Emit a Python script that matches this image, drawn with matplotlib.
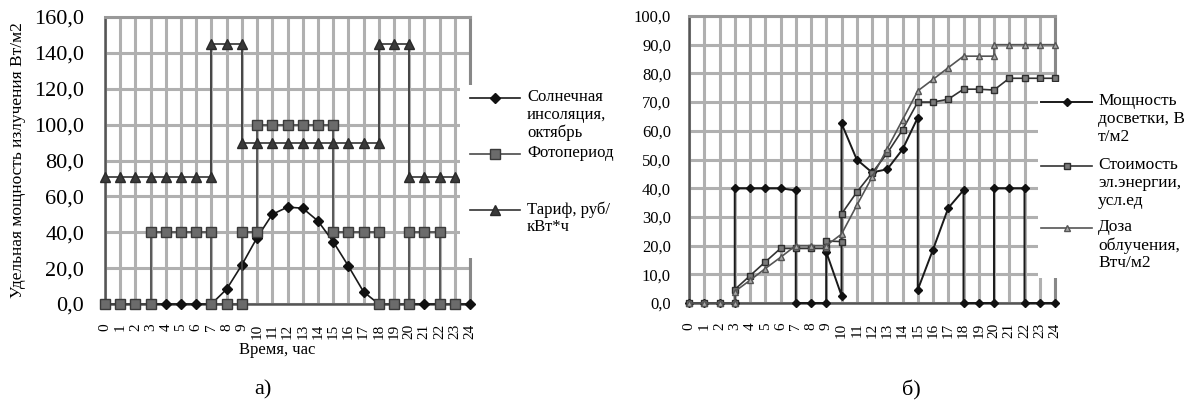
import matplotlib
matplotlib.use("Agg")
import matplotlib.pyplot as plt
from matplotlib.lines import Line2D
from matplotlib.patches import Rectangle
from matplotlib.ticker import FuncFormatter

plt.rcParams['font.family'] = ['Liberation Serif', 'DejaVu Serif']

W, H = 1184, 403

hours = list(range(25))

# --- a) solar insolation, photoperiod, tariff ---
solar_x = hours
solar_y = [0, 0, 0, 0, 0, 0, 0, 0, 8.3, 21.8, 37.0, 50.0, 54.0, 53.4, 46.3,
           34.8, 21.2, 6.8, 0, 0, 0, 0, 0, 0, 0]

photo_x = [0, 1, 2, 3, 3, 4, 5, 6, 7, 7, 8, 9, 9, 10, 10, 11, 12, 13, 14, 15,
           15, 16, 17, 18, 18, 19, 20, 20, 21, 22, 22, 23]
photo_y = [0, 0, 0, 0, 40, 40, 40, 40, 40, 0, 0, 0, 40, 40, 100, 100, 100, 100,
           100, 100, 40, 40, 40, 40, 0, 0, 0, 40, 40, 40, 0, 0]

tariff_x = [0, 1, 2, 3, 4, 5, 6, 7, 7, 8, 9, 9, 10, 11, 12, 13, 14, 15, 16, 17,
            18, 18, 19, 20, 20, 21, 22, 23]
tariff_y = [71, 71, 71, 71, 71, 71, 71, 71, 145, 145, 145, 90, 90, 90, 90, 90,
            90, 90, 90, 90, 90, 145, 145, 145, 71, 71, 71, 71]

# --- б) supplementary lighting, energy cost, dose ---
light_x = [0, 1, 2, 3, 3, 4, 5, 6, 7, 7, 8, 9, 9, 10, 10, 11, 12, 13, 14, 15,
           15, 16, 17, 18, 18, 19, 20, 20, 21, 22, 22, 23, 24]
light_y = [0, 0, 0, 0, 40, 40, 40, 40, 39.2, 0, 0, 0, 17.8, 2.6, 62.6, 50.0,
           45.5, 46.6, 53.5, 64.6, 4.6, 18.6, 33.1, 39.3, 0, 0, 0, 40, 40, 40,
           0, 0, 0]

cost_x = [0, 1, 2, 3, 3, 4, 5, 6, 7, 8, 9, 9, 10, 10, 11, 12, 13, 14, 15, 16,
          17, 18, 19, 20, 21, 22, 23, 24]
cost_y = [0, 0, 0, 0, 4.7, 9.5, 14.3, 19.0, 19.0, 19.0, 19.0, 21.6, 21.4, 31.0,
          38.6, 45.3, 52.2, 60.3, 70.0, 70.0, 71.0, 74.5, 74.5, 74.2, 78.3,
          78.3, 78.3, 78.3]

dose_x = [0, 1, 2, 3, 3, 4, 5, 6, 7, 8, 9, 10, 11, 12, 13, 14, 15, 16, 17, 18,
          19, 20, 20, 21, 22, 23, 24]
dose_y = [0, 0, 0, 0, 4.0, 7.9, 12.0, 15.9, 20.0, 20.0, 20.0, 24.0, 34.0, 43.8,
          53.8, 63.8, 73.9, 77.9, 82.0, 86.0, 86.0, 86.0, 90.0, 90.0, 90.0,
          90.0, 90.0]

left_labels = ["Солнечная\nинсоляция,\nоктябрь", "Фотопериод", "Тариф, руб/\nкВт*ч"]
right_labels = ["Мощность\nдосветки, В\nт/м2", "Стоимость\nэл.энергии,\nусл.ед",
                "Доза\nоблучения,\nВтч/м2"]

GRID = '#b0b0b0'
SPINE = '#555555'

fig = plt.figure(figsize=(W / 100, H / 100), dpi=100)


def px_box(x0, x1, y_top, y_bot):
    return [x0 / W, 1 - y_bot / H, (x1 - x0) / W, (y_bot - y_top) / H]


def style_axes(ax, ymax, ystep, ysize, ypad):
    ax.set_xlim(0, 24)
    ax.set_ylim(0, ymax)
    ax.set_xticks(hours)
    ax.set_xticklabels([str(h) for h in hours], rotation=90, fontsize=11,
                       va='top', ha='center')
    ax.set_yticks([v * ystep for v in range(int(ymax / ystep) + 1)])
    ax.yaxis.set_major_formatter(FuncFormatter(lambda v, p: f"{v:.1f}".replace('.', ',')))
    ax.tick_params(axis='y', labelsize=ysize, length=0, pad=ypad)
    ax.tick_params(axis='x', length=0, pad=14)
    ax.grid(True, color=GRID, linewidth=2.2, zorder=0)
    ax.set_axisbelow(True)
    ax.spines['left'].set_color(SPINE)
    ax.spines['left'].set_linewidth(1.8)
    ax.spines['bottom'].set_color(SPINE)
    ax.spines['bottom'].set_linewidth(1.8)
    ax.spines['top'].set_color('#999999')
    ax.spines['top'].set_linewidth(2.2)
    ax.spines['right'].set_color('#888888')
    ax.spines['right'].set_linewidth(2.2)


def draw_legend(entries, x0, x1, xtext, rows, fsize, cover):
    # white panel over the right edge of the plot, then the entries on it
    cx0, cx1, cy0, cy1 = cover
    fig.add_artist(Rectangle((cx0 / W, 1 - cy1 / H), (cx1 - cx0) / W, (cy1 - cy0) / H,
                             transform=fig.transFigure, facecolor='white',
                             edgecolor='none', zorder=10))
    for (label, st), y in zip(entries, rows):
        yf = 1 - y / H
        fig.add_artist(Line2D([x0 / W, x1 / W], [yf, yf], transform=fig.transFigure,
                              color=st['color'], lw=st['lw'], zorder=11))
        fig.add_artist(Line2D([(x0 + x1) / 2 / W], [yf], transform=fig.transFigure,
                              marker=st['marker'], markersize=st['ms'],
                              markerfacecolor=st['mfc'], markeredgecolor=st['mec'],
                              linestyle='none', zorder=12))
        fig.text(xtext / W, yf + 0.022, label, fontsize=fsize, va='top', ha='left',
                 linespacing=1.15, zorder=12)


# chart а)
ax1 = fig.add_axes(px_box(105, 470, 17, 304))
style_axes(ax1, 160, 20, 16, 15)

st_solar = dict(color='#1a1a1a', lw=1.2, marker='D', ms=5.5, mfc='#111111', mec='#111111')
st_photo = dict(color='#4a4a4a', lw=1.2, marker='s', ms=6.5, mfc='#6b6b6b', mec='#3a3a3a')
st_tariff = dict(color='#333333', lw=1.2, marker='^', ms=7, mfc='#3a3a3a', mec='#2a2a2a')

for xs, ys, st, z in [(solar_x, solar_y, st_solar, 3), (photo_x, photo_y, st_photo, 4),
                      (tariff_x, tariff_y, st_tariff, 5)]:
    ax1.plot(xs, ys, color=st['color'], lw=st['lw'], marker=st['marker'],
             markersize=st['ms'], markerfacecolor=st['mfc'],
             markeredgecolor=st['mec'], zorder=z, clip_on=False)

fig.text(18 / W, 1 - 160 / H, "Удельная мощность излучения Вт/м2", rotation=90,
         fontsize=12.5, ha='center', va='center')
fig.text(277 / W, 1 - 350 / H, "Время, час", fontsize=12, ha='center', va='center')
fig.text(263 / W, 1 - 390 / H, "а)", fontsize=16, ha='center', va='center')

draw_legend(list(zip(left_labels, [st_solar, st_photo, st_tariff])),
            470, 520, 527, [98, 154, 210], 12, (460, 600, 85, 258))

# chart б)
ax2 = fig.add_axes(px_box(689, 1055, 16, 303))
style_axes(ax2, 100, 10, 12, 13)

st_light = dict(color='#1a1a1a', lw=1.4, marker='D', ms=4, mfc='#111111', mec='#111111')
st_cost = dict(color='#333333', lw=1.2, marker='s', ms=5, mfc='#7a7a7a', mec='#2e2e2e')
st_dose = dict(color='#555555', lw=1.2, marker='^', ms=4.5, mfc='#a8a8a8', mec='#555555')

for xs, ys, st, z in [(light_x, light_y, st_light, 3), (cost_x, cost_y, st_cost, 4),
                      (dose_x, dose_y, st_dose, 5)]:
    ax2.plot(xs, ys, color=st['color'], lw=st['lw'], marker=st['marker'],
             markersize=st['ms'], markerfacecolor=st['mfc'],
             markeredgecolor=st['mec'], zorder=z, clip_on=False)

fig.text(911 / W, 1 - 390 / H, "б)", fontsize=16, ha='center', va='center')

draw_legend(list(zip(right_labels, [st_light, st_cost, st_dose])),
            1041, 1092, 1098, [102, 166, 228], 12.5, (1038, W, 82, 278))

fig.savefig("out.png", dpi=100)
